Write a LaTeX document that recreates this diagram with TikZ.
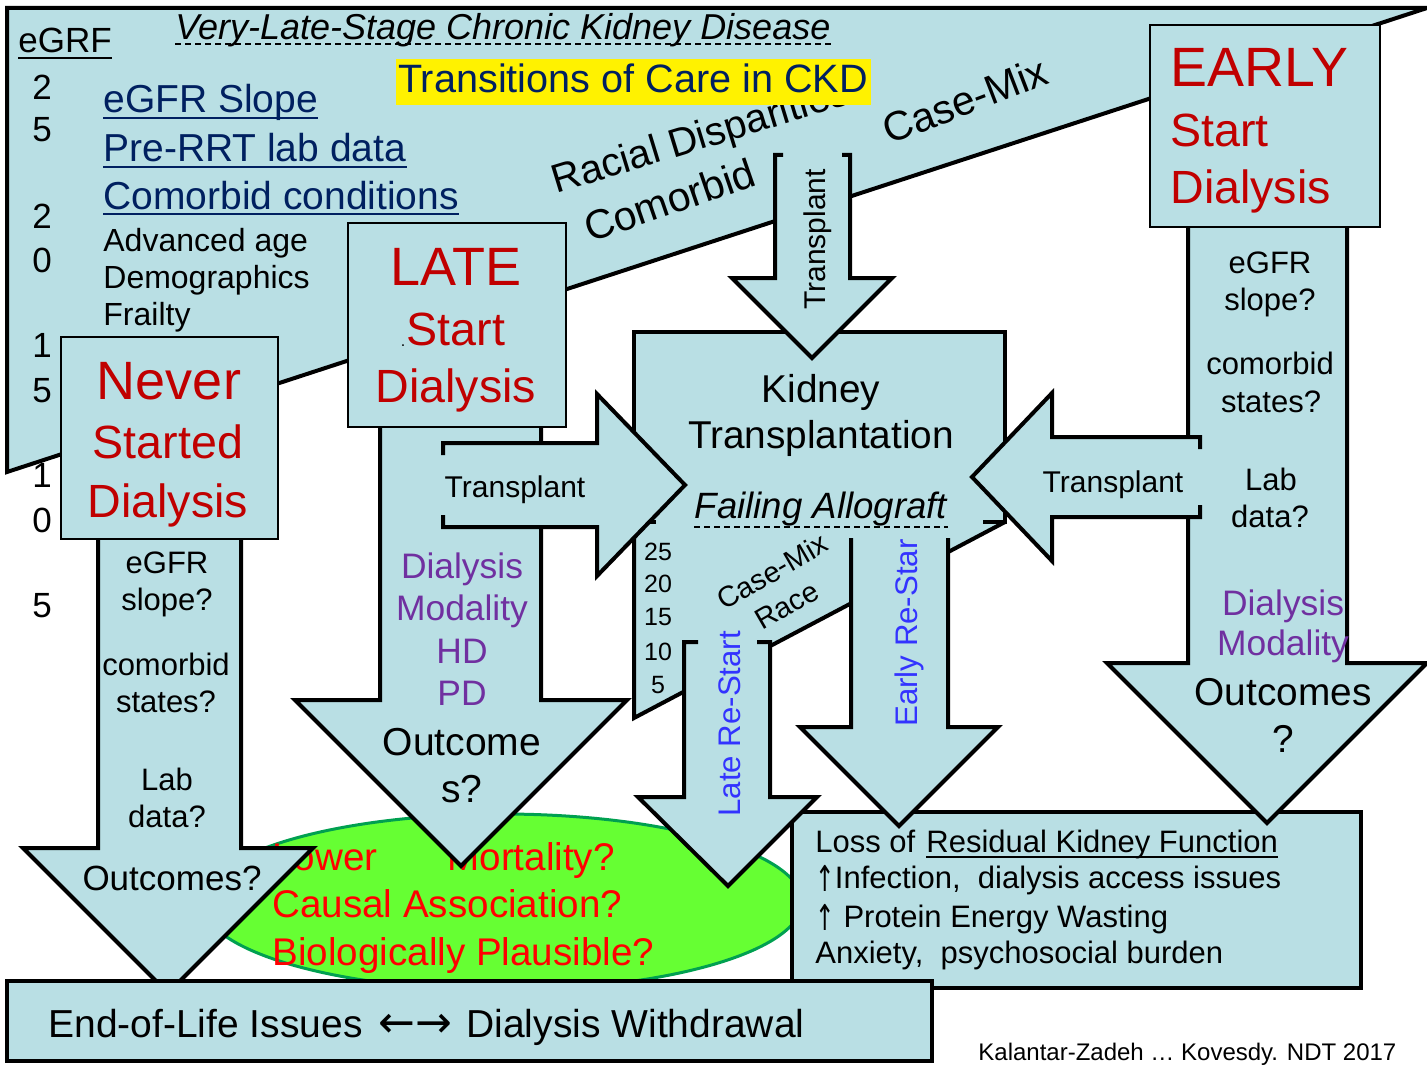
\documentclass[tikz,border=0pt]{standalone}
\usepackage{fontspec}
\setmainfont{Liberation Sans}
\newfontfamily\arrowfont{DejaVu Sans}

\definecolor{ckdblue}{RGB}{185,223,228}
\definecolor{navytext}{RGB}{0,32,96}
\definecolor{boxred}{RGB}{192,0,0}
\definecolor{modpurple}{RGB}{112,48,160}
\definecolor{restartblue}{RGB}{51,51,255}
\definecolor{ovalgreen}{RGB}{102,255,51}
\definecolor{ovaledge}{RGB}{0,160,80}

\newcommand{\fsz}[1]{\fontsize{#1pt}{#1pt}\selectfont}
\newcommand{\uparr}{\raisebox{-0.12em}{\arrowfont\scalebox{0.75}[1.15]{↑}}}

\tikzset{
  panel/.style={fill=ckdblue, draw=black, line width=2pt},
  pane/.style={fill=ckdblue, draw=black, line width=1.2pt},
  edge/.style={draw=black, line width=2pt},
  lbl/.style={inner sep=0pt, anchor=base},
  lblw/.style={inner sep=0pt, anchor=base west},
  uline/.style={line width=1pt},
}

\begin{document}
\begin{tikzpicture}[x=0.5pt, y=-0.5pt]
  \useasboundingbox (0,0) rectangle (1427,1064);

  % very-late-stage CKD wedge
  \draw[panel] (7,8) -- (1427,8) -- (7,472) -- cycle;
  \node[lblw, font=\fsz{17.5}] (egrf) at (18,53) {eGRF};
  \draw[uline] ([yshift=-2.5pt]egrf.base west) -- ([yshift=-2.5pt]egrf.base east);
  \node[lblw, font=\fsz{18}\itshape] (vlscd) at (175,40) {Very-Late-Stage Chronic Kidney Disease};
  \draw[uline, dash pattern=on 3pt off 2pt] ([yshift=-2pt]vlscd.base west) -- ([yshift=-2pt]vlscd.base east);

  \node[lbl, font=\fsz{17.5}] (ax1) at (42,100) {2};
  \node[lbl, font=\fsz{17.5}] (ax2) at (42,142) {5};
  \node[lbl, font=\fsz{17.5}] (ax3) at (42,228) {2};
  \node[lbl, font=\fsz{17.5}] (ax4) at (42,272) {0};
  \node[lbl, font=\fsz{17.5}] (ax5) at (42,357) {1};
  \node[lbl, font=\fsz{17.5}] (ax6) at (42,402) {5};
  \node[lbl, font=\fsz{17.5}] (ax7) at (42,487) {1};
  \node[lbl, font=\fsz{17.5}] (ax8) at (42,532) {0};
  \node[lbl, font=\fsz{17.5}] (ax9) at (42,617) {5};

  \node[lblw, font=\fsz{19.5}, text=navytext] (slope) at (103,113) {eGFR Slope};
  \node[lblw, font=\fsz{19.5}, text=navytext] (prerrt) at (103,162) {Pre-RRT lab data};
  \node[lblw, font=\fsz{19.5}, text=navytext] (comcond) at (103,209) {Comorbid conditions};
  \draw[uline, navytext] ([yshift=-2.5pt]slope.base west) -- ([yshift=-2.5pt]slope.base east);
  \draw[uline, navytext] ([yshift=-2.5pt]prerrt.base west) -- ([yshift=-2.5pt]prerrt.base east);
  \draw[uline, navytext] ([yshift=-2.5pt]comcond.base west) -- ([yshift=-2.5pt]comcond.base east);
  \node[lblw, font=\fsz{16}] (age) at (103,251) {Advanced age};
  \node[lblw, font=\fsz{16}] (demo) at (103,288) {Demographics};
  \node[lblw, font=\fsz{16}] (frail) at (103,325) {Frailty};

  \node[lblw, font=\fsz{20}, rotate=17] (racial) at (556,194) {Racial Disparities};
  \node[lblw, font=\fsz{20.5}, rotate=19] (comorb) at (590,243) {Comorbid};
  \node[lblw, font=\fsz{20.5}, rotate=21] (casemix) at (889,145) {Case-Mix};

  % title
  \fill[yellow] (396,59) rectangle (871,105);
  \node[lbl, font=\fsz{19.8}, text=navytext] (tcare) at (633,93) {Transitions of Care in CKD};

  % mortality oval
  \draw[fill=ovalgreen, draw=ovaledge, line width=1.5pt] (502,902) ellipse [x radius=300, y radius=88];
  \node[lblw, font=\fsz{19.3}, text=red] (lower) at (272,870) {Lower};
  \node[lblw, font=\fsz{19.3}, text=red] (mort) at (447,870) {Mortality?};
  \node[lblw, font=\fsz{19.3}, text=red] (causal) at (272,917) {Causal Association?};
  \node[lblw, font=\fsz{19.3}, text=red] (bio) at (272,965) {Biologically Plausible?};

  % residual function box
  \draw[panel] (792,812) rectangle (1361,988);
  \node[lblw, font=\fsz{15.5}] (lossof) at (815,852) {Loss of};
  \node[lblw, font=\fsz{15.5}] (rkf) at (926,852) {Residual Kidney Function};
  \draw[uline] ([yshift=-2.5pt]rkf.base west) -- ([yshift=-2.5pt]rkf.base east);
  \node[lblw, font=\fsz{15.5}] (infect) at (815,888) {\uparr Infection,\ \ dialysis access issues};
  \node[lblw, font=\fsz{15.5}] (pew) at (815,927) {\uparr\ Protein Energy Wasting};
  \node[lblw, font=\fsz{15.5}] (anx) at (815,963) {Anxiety,\ \ psychosocial burden};

  % kidney transplantation box and failing allograft wedge
  \fill[ckdblue] (634,332) rectangle (1005,522);
  \fill[ckdblue] (634,522) -- (1005,522) -- (634,718) -- cycle;
  \draw[edge] (656,522) -- (634,522) -- (634,332) -- (1005,332) -- (1005,522) -- (983,522);
  \draw[edge] (634,522) -- (634,718) -- (1005,522);
  \node[lbl, font=\fsz{19.4}] (kid) at (821,402) {Kidney};
  \node[lbl, font=\fsz{19.4}] (ktx) at (821,448) {Transplantation};
  \node[lbl, font=\fsz{18.3}\itshape] (fail) at (821,518) {Failing Allograft};
  \draw[uline, dash pattern=on 3pt off 2pt] ([yshift=-4.5pt]fail.base west) -- ([yshift=-4.5pt]fail.base east);
  \node[lbl, font=\fsz{12.5}] (n25) at (658,560) {25};
  \node[lbl, font=\fsz{12.5}] (n20) at (658,592) {20};
  \node[lbl, font=\fsz{12.5}] (n15) at (658,625) {15};
  \node[lbl, font=\fsz{12.5}] (n10) at (658,660) {10};
  \node[lbl, font=\fsz{12.5}] (n5) at (658,693) {5};
  \node[lblw, font=\fsz{14.5}, rotate=30] (cmix) at (724,611) {Case-Mix};
  \node[lblw, font=\fsz{14.5}, rotate=30] (race) at (762,631) {Race};

  % transplant from CKD
  \fill[ckdblue] (775,155) -- (850,155) -- (850,278) -- (892,278) -- (812,358) -- (732,278) -- (775,278) -- cycle;
  \draw[edge] (783,155) -- (775,155) -- (775,278) -- (732,278) -- (812,358) -- (892,278) -- (850,278) -- (850,155) -- (842,155);
  \node[lblw, font=\fsz{15}, rotate=90] (tpdown) at (825,310) {Transplant};

  % never started
  \draw[panel] (98,530) -- (98,848) -- (23,848) -- (168,993) -- (313,848) -- (241,848) -- (241,530) -- cycle;
  \node[lbl, font=\fsz{15.5}] (nv1) at (167,573) {eGFR};
  \node[lbl, font=\fsz{15.5}] (nv2) at (167,610) {slope?};
  \node[lbl, font=\fsz{15.5}] (nv3) at (166,675) {comorbid};
  \node[lbl, font=\fsz{15.5}] (nv4) at (166,712) {states?};
  \node[lbl, font=\fsz{15.5}] (nv5) at (167,790) {Lab};
  \node[lbl, font=\fsz{15.5}] (nv6) at (167,827) {data?};
  \node[lbl, font=\fsz{17.5}] (nv7) at (172,890) {Outcomes?};

  % late start
  \draw[panel] (380,420) -- (380,700) -- (295,700) -- (461,866) -- (627,700) -- (541,700) -- (541,420) -- cycle;
  \node[lbl, font=\fsz{17.7}, text=modpurple] (lt1) at (462,578) {Dialysis};
  \node[lbl, font=\fsz{17.7}, text=modpurple] (lt2) at (462,620) {Modality};
  \node[lbl, font=\fsz{17.7}, text=modpurple] (lt3) at (462,663) {HD};
  \node[lbl, font=\fsz{17.7}, text=modpurple] (lt4) at (462,705) {PD};
  \node[lbl, font=\fsz{19.5}] (lt5) at (462,755) {Outcome};
  \node[lbl, font=\fsz{19.5}] (lt6) at (462,802) {s?};

  \fill[ckdblue] (443,443) -- (597,443) -- (597,394) -- (685,485) -- (597,576) -- (597,527) -- (443,527) -- cycle;
  \draw[edge] (443,455) -- (443,443) -- (597,443) -- (597,394) -- (685,485) -- (597,576) -- (597,527) -- (443,527) -- (443,515);
  \node[lbl, font=\fsz{15}] (tpright) at (515,497) {Transplant};

  % re-start after failing allograft
  \fill[ckdblue] (684,642) -- (770,642) -- (770,797) -- (817,797) -- (728,886) -- (638,797) -- (684,797) -- cycle;
  \draw[edge] (698,642) -- (684,642) -- (684,797) -- (638,797) -- (728,886) -- (817,797) -- (770,797) -- (770,642) -- (757,642);
  \node[lblw, font=\fsz{15.6}, text=restartblue, rotate=90] (laters) at (740,817) {Late Re-Start};

  \fill[ckdblue] (851,538) -- (948,538) -- (948,727) -- (998,727) -- (899,826) -- (800,727) -- (851,727) -- cycle;
  \draw[edge] (851,538) -- (851,727) -- (800,727) -- (899,826) -- (998,727) -- (948,727) -- (948,538);
  \node[lblw, font=\fsz{15.6}, text=restartblue, rotate=90] (earlyrs) at (917,727) {Early Re-Star};

  % early start
  \draw[panel] (1188,220) -- (1188,663) -- (1107,663) -- (1267,823) -- (1427,663) -- (1347,663) -- (1347,220) -- cycle;
  \node[lbl, font=\fsz{15.5}] (er1) at (1270,273) {eGFR};
  \node[lbl, font=\fsz{15.5}] (er2) at (1270,310) {slope?};
  \node[lbl, font=\fsz{15.5}] (er3) at (1270,374) {comorbid};
  \node[lbl, font=\fsz{15.5}] (er4) at (1271,412) {states?};
  \node[lbl, font=\fsz{15.5}] (er5) at (1271,490) {Lab};
  \node[lbl, font=\fsz{15.5}] (er6) at (1270,527) {data?};
  \node[lbl, font=\fsz{17.7}, text=modpurple] (er7) at (1283,615) {Dialysis};
  \node[lbl, font=\fsz{17.7}, text=modpurple] (er8) at (1283,655) {Modality};
  \node[lbl, font=\fsz{19.4}] (er9) at (1283,705) {Outcomes};
  \node[lbl, font=\fsz{19.4}] (er10) at (1283,752) {?};

  \fill[ckdblue] (1200,437) -- (1052,437) -- (1052,393) -- (972,477) -- (1052,561) -- (1052,517) -- (1200,517) -- cycle;
  \draw[edge] (1200,449) -- (1200,437) -- (1052,437) -- (1052,393) -- (972,477) -- (1052,561) -- (1052,517) -- (1200,517) -- (1200,505);
  \node[lbl, font=\fsz{15}] (tpleft) at (1113,492) {Transplant};

  % start boxes
  \draw[pane] (61,337) rectangle (278,539);
  \node[lbl, font=\fsz{27}, text=boxred] (never) at (169,399) {Never};
  \node[lbl, font=\fsz{23.3}, text=boxred] (started) at (168,458) {Started};
  \node[lbl, font=\fsz{23.3}, text=boxred] (nvdial) at (168,517) {Dialysis};

  \draw[pane] (348,223) rectangle (566,427);
  \node[lbl, font=\fsz{27}, text=boxred] (late) at (456,285) {LATE};
  \node[lbl, font=\fsz{23.3}, text=boxred] (ltstart) at (456,345) {Start};
  \node[lbl, font=\fsz{8}] (ltdot) at (403,346) {.};
  \node[lbl, font=\fsz{23.3}, text=boxred] (ltdial) at (456,402) {Dialysis};

  \draw[pane] (1150,25) rectangle (1380,227);
  \node[lblw, font=\fsz{27.7}, text=boxred] (early) at (1170,87) {EARLY};
  \node[lblw, font=\fsz{23.3}, text=boxred] (erstart) at (1170,147) {Start};
  \node[lblw, font=\fsz{23.3}, text=boxred] (erdial) at (1170,204) {Dialysis};

  % end of life
  \draw[panel] (7,981) rectangle (932,1061);
  \node[lblw, font=\fsz{19.5}] (eol) at (48,1037) {End-of-Life Issues\hspace{8pt}{\arrowfont\fsz{22}←→}\hspace{7pt}Dialysis Withdrawal};

  \node[lblw, font=\fsz{12}] (cite) at (978,1060) {Kalantar-Zadeh … Kovesdy. NDT 2017};
\end{tikzpicture}
\end{document}
